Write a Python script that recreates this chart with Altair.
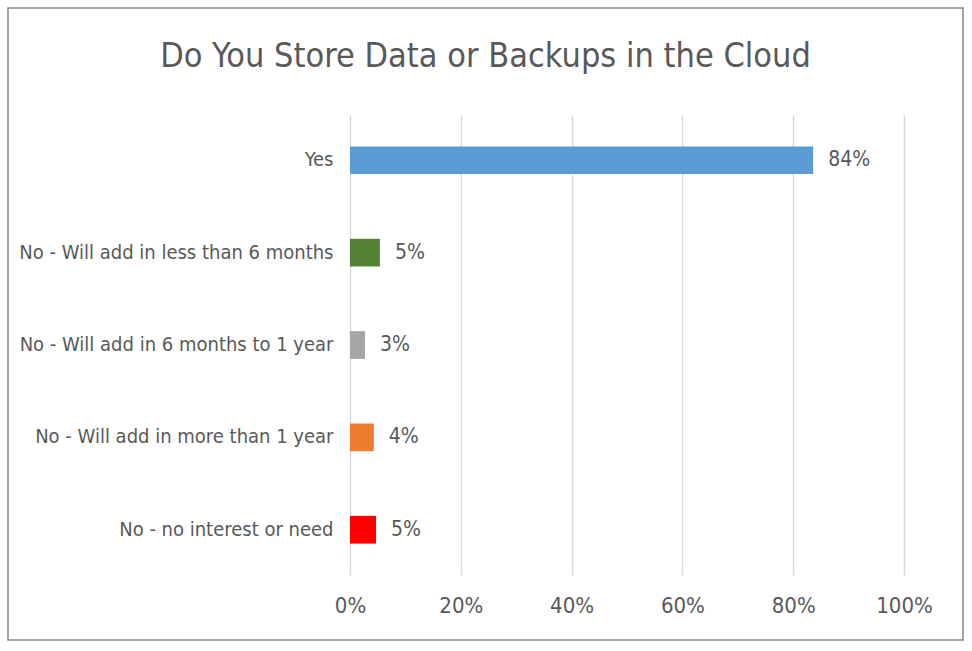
import altair as alt
import pandas as pd

categories = [
    "Yes",
    "No - Will add in less than 6 months",
    "No - Will add in 6 months to 1 year",
    "No - Will add in more than 1 year",
    "No - no interest or need",
]
shares = [0.836, 0.054, 0.027, 0.043, 0.047]
colors = ["#5B9BD5", "#548235", "#A5A5A5", "#ED7D31", "#FF0000"]
x_ticks = [0, 0.2, 0.4, 0.6, 0.8, 1.0]
title_text = "Do You Store Data or Backups in the Cloud"

df = pd.DataFrame({"category": categories, "share": shares, "color": colors})

FONT = "Liberation Sans Narrow, DejaVu Sans Condensed, sans-serif"
GRAY = "#595959"

x_enc = alt.X(
    "share:Q",
    scale=alt.Scale(domain=[0, 1], nice=False),
    axis=alt.Axis(
        title=None, values=x_ticks, format=".0%", grid=True, gridColor="#D9D9D9",
        gridWidth=1.5, domain=False, ticks=False, labelFontSize=22, labelFont=FONT,
        labelColor=GRAY, labelPadding=20, labelFlush=False, labelAlign="center",
    ),
)
y_enc = alt.Y(
    "category:N", sort=categories,
    scale=alt.Scale(paddingInner=0.7, paddingOuter=0.34),
    axis=alt.Axis(
        title=None, ticks=False, domain=False, labelPadding=17, labelFontSize=20,
        labelFont=FONT, labelColor=GRAY, grid=False, labelLimit=400,
    ),
)

bars = alt.Chart(df).mark_bar().encode(
    x=x_enc, y=y_enc, color=alt.Color("color:N", scale=None)
)
labels = alt.Chart(df).mark_text(
    align="left", baseline="middle", dx=15, fontSize=21, font=FONT, color=GRAY
).encode(x="share:Q", y=alt.Y("category:N", sort=categories), text=alt.Text("share:Q", format=".0%"))

border = alt.Chart(pd.DataFrame({"k": [0]})).mark_rect(
    fill=None, stroke="#888888", strokeWidth=1.5
).encode(
    x=alt.value(-342), x2=alt.value(613), y=alt.value(-107), y2=alt.value(525)
)

chart = alt.layer(border, bars, labels).properties(
    width=554, height=460,
    title=alt.TitleParams(
        title_text, fontSize=34, font=FONT, color=GRAY, fontWeight="normal",
        offset=-67, anchor="middle", frame="bounds",
    ),
    autosize=alt.AutoSizeParams(type="none"),
    padding={"left": 350, "top": 115, "right": 68, "bottom": 76},
).configure_view(stroke=None)

chart.save("out.html", embed_options={"renderer": "svg", "actions": False})
